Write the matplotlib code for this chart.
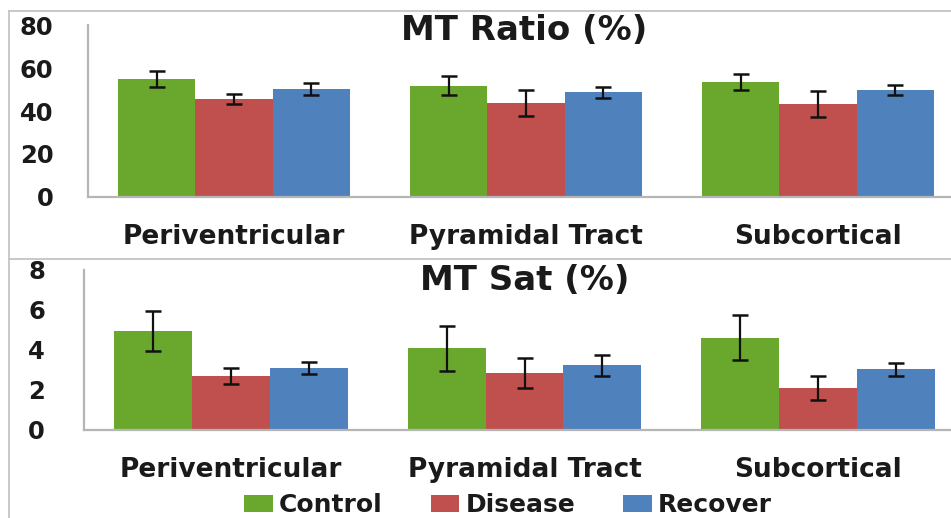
import matplotlib
matplotlib.use("Agg")
import matplotlib.pyplot as plt
from matplotlib.lines import Line2D
import numpy as np

# Region names and group labels
regions = ["Periventricular", "Pyramidal Tract", "Subcortical"]
groups = ["Control", "Disease", "Recover"]
colors = ["#6AA82D", "#C0504D", "#4F81BD"]

# MT Ratio (%) means and error half-widths
ratio_control = [55.0, 51.9, 53.7]
ratio_disease = [45.8, 43.9, 43.2]
ratio_recover = [50.2, 48.8, 50.0]
ratio_control_err = [3.7, 4.5, 3.8]
ratio_disease_err = [2.4, 6.0, 6.0]
ratio_recover_err = [2.7, 2.5, 2.3]

# MT Sat (%) means and error half-widths
sat_control = [4.93, 4.06, 4.59]
sat_disease = [2.69, 2.84, 2.06]
sat_recover = [3.06, 3.21, 3.01]
sat_control_err = [1.02, 1.12, 1.12]
sat_disease_err = [0.40, 0.75, 0.60]
sat_recover_err = [0.30, 0.53, 0.32]

ratio_ticks = [0, 20, 40, 60, 80]
sat_ticks = [0, 2, 4, 6, 8]

W, H = 951, 518
FONT = "DejaVu Sans"
plt.rcParams["font.family"] = [FONT]

fig = plt.figure(figsize=(W / 100, H / 100), dpi=100)
fig.patch.set_facecolor("white")


def px_axes(left, top, right, bottom):
    return fig.add_axes([left / W, 1 - bottom / H, (right - left) / W, (bottom - top) / H])


def draw_panel(ax, means, errs, ylim, yticks, tick_pad, label_pad):
    x = np.arange(len(regions)) + 0.5
    bw = 0.265
    offsets = [-bw, 0.0, bw]
    handles = []
    for vals, ev, off, col, name in zip(means, errs, offsets, colors, groups):
        b = ax.bar(x + off, vals, width=bw, color=col, edgecolor="none", label=name, zorder=2)
        ax.errorbar(x + off, vals, yerr=ev, fmt="none", ecolor="#111111",
                    elinewidth=1.6, capsize=6, capthick=1.8, zorder=3)
        handles.append(b)
    ax.set_xlim(0, 3)
    ax.set_ylim(*ylim)
    ax.set_yticks(yticks)
    ax.set_yticklabels([str(t) for t in yticks], fontsize=17.5, fontweight="bold", color="#1a1a1a")
    ax.set_xticks(x)
    ax.set_xticklabels(regions, fontsize=19, fontweight="bold", color="#1a1a1a")
    ax.tick_params(axis="y", length=0, pad=tick_pad)
    ax.tick_params(axis="x", length=0, pad=label_pad)
    for s in ("top", "right"):
        ax.spines[s].set_visible(False)
    for s in ("left", "bottom"):
        ax.spines[s].set_color("#b5b5b5")
        ax.spines[s].set_linewidth(1.6)
    ax.set_facecolor("none")
    return handles


# Upper panel: MT Ratio
ax1 = px_axes(88, 25.5, 964, 196.7)
draw_panel(ax1,
           [ratio_control, ratio_disease, ratio_recover],
           [ratio_control_err, ratio_disease_err, ratio_recover_err],
           (0, 80), ratio_ticks, 25, 20)

# Lower panel: MT Sat
ax2 = px_axes(84, 269.5, 965, 429.5)
handles = draw_panel(ax2,
                     [sat_control, sat_disease, sat_recover],
                     [sat_control_err, sat_disease_err, sat_recover_err],
                     (0, 8), sat_ticks, 28, 20)

# Panel titles
fig.text(524 / W, 1 - 31 / H, "MT Ratio (%)", ha="center", va="center",
         fontsize=24.5, fontweight="bold", color="#1a1a1a")
fig.text(525 / W, 1 - 281 / H, "MT Sat (%)", ha="center", va="center",
         fontsize=24.5, fontweight="bold", color="#1a1a1a")

# Panel frames
frame_kw = dict(color="#c4c4c4", linewidth=1.3, transform=fig.transFigure)
fig.add_artist(Line2D([9.3 / W, 1], [1 - 10.7 / H, 1 - 10.7 / H], **frame_kw))
fig.add_artist(Line2D([9.3 / W, 1], [1 - 258.8 / H, 1 - 258.8 / H], **frame_kw))
fig.add_artist(Line2D([9.3 / W, 9.3 / W], [1 - 10.7 / H, 0], **frame_kw))

# Legend
fig.legend(handles, groups, loc="center", bbox_to_anchor=(508 / W, 1 - 505 / H),
           ncol=3, frameon=False, prop={"family": FONT, "weight": "bold", "size": 18},
           handlelength=1.15, handleheight=0.7, handletextpad=0.25, columnspacing=1.9,
           borderpad=0, labelcolor="#1a1a1a")

fig.savefig("out.png", dpi=100, facecolor="white")
